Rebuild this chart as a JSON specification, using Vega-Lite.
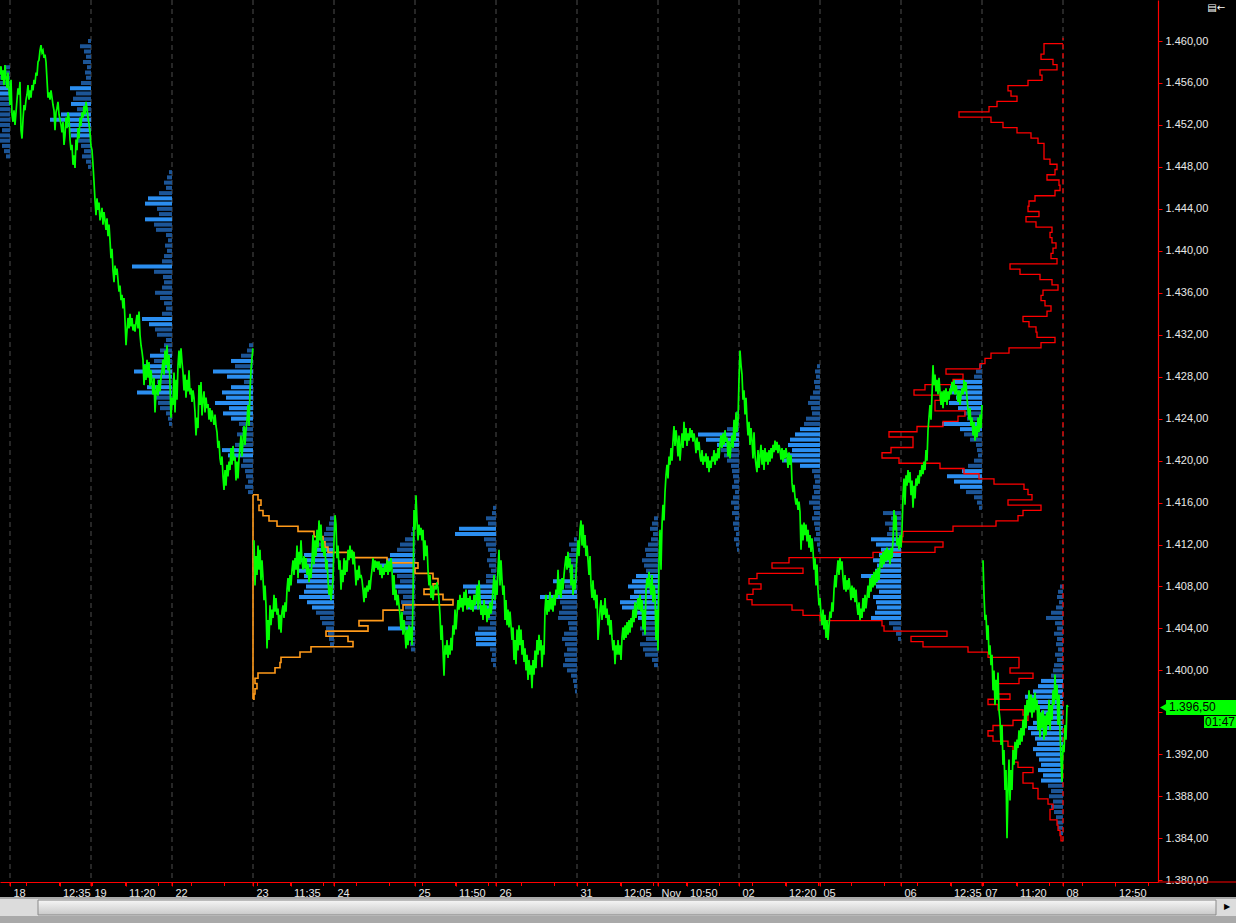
{
"$schema": "https://vega.github.io/schema/vega-lite/v6.json",
"width": 1158, "height": 882,
"autosize": {"type": "none"},
"padding": {"left": 0, "top": 0, "right": 78, "bottom": 41},
"background": "#000000",
"config": {"view": {"stroke": null}, "axis": {"labelFont": "Liberation Sans", "labelFontSize": 11, "labelColor": "#e8e8e8", "domainColor": "#ff0000", "tickColor": "#ff0000", "grid": false, "labelOverlap": false}},
"datasets": {
"sessions": [{"a":0},{"a":1},{"a":2},{"a":3},{"a":4},{"a":5},{"a":6},{"a":7},{"a":8},{"a":9},{"a":10},{"a":11},{"a":12},{"a":13}],
"ticks": [{"t":0},{"t":0.2037},{"t":0.6111},{"t":1},{"t":1.0185},{"t":1.4259},{"t":1.8333},{"t":2},{"t":2.2407},{"t":2.6481},{"t":3},{"t":3.0556},{"t":3.463},{"t":3.8704},{"t":4},{"t":4.2778},{"t":4.6852},{"t":5},{"t":5.0926},{"t":5.5},{"t":5.9074},{"t":6},{"t":6.3148},{"t":6.7222},{"t":7},{"t":7.1296},{"t":7.537},{"t":7.9444},{"t":8},{"t":8.3519},{"t":8.7593},{"t":9},{"t":9.1667},{"t":9.5741},{"t":9.9815},{"t":10},{"t":10.3889},{"t":10.7963},{"t":11},{"t":11.2037},{"t":11.6111},{"t":12},{"t":12.0185},{"t":12.4259},{"t":12.8333},{"t":13},{"t":13.2407},{"t":13.6481},{"t":14.0556}],
"green": [
{"g":"A","b":[-10,-9,-8,-7,-6,-5,-4,-3,-2,-1],"p":[1456.8,1457.6,1456.3,1457.2,1455.8,1457.7,1456.5,1455.5,1457.0,1455.3]},
{"g":"A","b":[0,1,2,3,4,5,6,7,8,9,10,11,12,13,14,15,16,17,18,19,20,21,22,23,24,25,26,27,28,29,30,31,32,33,34,35,36,37,38,39,40,41,42,43,44,45,46,47,48,49,50,51,52,53,54,55,56,57,58,59,60,61,62,63,64,65,66,67,68,69,70,71,72,73,74,75,76,77,78,79,80,81,82],
"p":[1453.9,1456.3,1453.0,1452.3,1453.4,1452.0,1453.2,1454.4,1455.5,1454.9,1456.1,1451.5,1450.7,1452.5,1453.9,1453.4,1454.4,1454.9,1455.8,1454.4,1455.3,1454.6,1455.8,1455.3,1456.3,1455.9,1457.0,1456.7,1458.0,1458.2,1459.1,1459.6,1458.9,1459.1,1458.4,1458.7,1458.0,1456.3,1454.6,1455.1,1454.4,1455.3,1454.6,1453.9,1453.4,1451.5,1453.2,1453.6,1454.2,1453.0,1452.5,1452.0,1451.3,1452.3,1450.1,1451.0,1452.7,1451.7,1453.2,1452.7,1450.6,1449.6,1450.1,1448.2,1449.1,1447.9,1450.6,1449.6,1451.7,1450.7,1452.7,1451.9,1453.2,1452.7,1453.8,1453.0,1454.2,1453.6,1452.7,1452.1,1451.3,1450.0,1449.6]},
{"g":"A","b":[83,84,85,86,87,88,89,90,91,92,93,94,95,96,97,98,99,100,101,102,103,104,105,106,107,108,109,110,111,112,113,114,115,116,117,118,119,120,121,122,123,124,125,126,127,128,129,130,131,132,133,134,135,136,137,138,139,140,141,142,143,144,145,146,147,148,149,150,151,152,153,154,155,156,157,158,159,160,161,162,163],
"p":[1448.2,1446.6,1444.8,1443.4,1445.0,1443.9,1444.6,1442.9,1443.4,1444.1,1442.5,1443.7,1442.9,1442.0,1443.1,1441.4,1442.5,1441.0,1439.3,1440.2,1438.1,1437.0,1438.6,1437.7,1438.3,1437.2,1436.1,1436.7,1435.3,1435.8,1434.5,1435.5,1433.4,1431.0,1432.4,1433.6,1432.6,1434.0,1432.8,1433.6,1432.4,1433.0,1432.3,1433.2,1433.9,1432.6,1434.2,1432.0,1431.0,1430.4,1429.6,1427.2,1429.1,1427.7,1429.6,1427.9,1429.4,1427.1,1428.6,1427.5,1426.3,1427.9,1424.6,1426.6,1427.2,1426.2,1427.7,1426.6,1427.9,1428.6,1429.6,1428.2,1430.5,1429.1,1431.0,1428.6,1430.1,1427.2,1424.1,1426.0,1425.3]},
{"g":"A","b":[164,165,166,167,168,169,170,171,172,173,174,175,176,177,178,179,180,181,182,183,184,185,186,187,188,189,190,191,192,193,194,195,196,197,198,199,200,201,202,203,204,205,206,207,208,209,210,211,212,213,214,215,216,217,218,219,220,221,222,223,224,225,226,227,228,229,230,231,232,233,234,235,236,237,238,239,240,241,242,243],
"p":[1428.4,1424.6,1427.7,1425.8,1429.1,1430.5,1428.8,1430.7,1429.4,1428.4,1426.7,1428.2,1426.0,1427.7,1426.6,1428.6,1426.3,1426.9,1425.6,1426.7,1426.0,1424.6,1422.4,1424.1,1423.1,1427.2,1425.3,1427.5,1424.3,1425.8,1426.6,1424.6,1426.0,1425.0,1425.4,1423.9,1425.0,1423.7,1424.8,1424.1,1423.4,1424.4,1423.3,1422.7,1421.2,1421.9,1420.2,1419.6,1420.4,1418.5,1417.2,1419.1,1417.6,1419.6,1418.5,1419.9,1419.1,1421.2,1419.6,1421.4,1420.0,1420.4,1418.1,1419.9,1418.3,1420.2,1421.2,1422.4,1420.4,1421.9,1423.3,1421.5,1422.9,1423.8,1425.3,1423.3,1426.7,1428.6,1429.8,1430.7]},
{"g":"B","b":[244,245,246,247,248,249,250,251,252,253,254,255,256,257,258,259,260,261,262,263,264,265,266,267,268,269,270,271,272,273,274,275,276,277,278,279,280,281,282,283,284,285,286,287,288,289,290,291,292,293,294,295,296,297,298,299,300,301,302,303,304,305,306,307,308,309,310,311,312,313,314,315,316,317,318,319,320,321,322,323,324,325],
"p":[1412.4,1408.1,1410.9,1409.1,1411.9,1409.6,1411.5,1408.6,1410.5,1408.8,1406.7,1408.1,1406.2,1402.1,1404.8,1402.9,1406.2,1404.3,1405.8,1405.0,1407.2,1405.6,1406.9,1405.3,1405.9,1403.9,1405.3,1403.6,1405.6,1406.2,1405.0,1406.5,1405.6,1407.7,1408.8,1407.5,1409.1,1408.1,1409.6,1410.5,1409.1,1410.7,1409.6,1411.9,1408.8,1411.3,1410.1,1412.4,1410.5,1409.6,1410.9,1409.7,1410.7,1409.1,1410.1,1408.4,1409.7,1408.8,1410.5,1412.9,1410.1,1412.4,1410.9,1413.4,1411.7,1414.3,1412.4,1413.9,1411.3,1412.4,1410.9,1411.7,1409.6,1410.5,1408.6,1407.2,1408.1,1406.7,1407.7,1408.6,1412.4,1414.8]},
{"g":"B","b":[326,327,328,329,330,331,332,333,334,335,336,337,338,339,340,341,342,343,344,345,346,347,348,349,350,351,352,353,354,355,356,357,358,359,360,361,362,363,364,365,366,367,368,369,370,371,372,373,374,375,376,377,378,379,380,381,382,383,384,385,386,387,388,389,390,391,392,393,394,395,396,397,398,399,400,401,402,403,404,405,406,407],
"p":[1413.9,1410.7,1411.9,1409.6,1410.5,1407.7,1409.6,1408.4,1410.7,1409.1,1410.5,1409.4,1411.5,1410.5,1411.9,1410.7,1411.5,1410.1,1411.3,1409.8,1408.1,1409.6,1408.6,1410.0,1408.8,1409.1,1408.6,1407.7,1406.5,1407.9,1406.9,1408.1,1407.5,1408.6,1407.7,1408.8,1409.6,1410.7,1409.4,1410.5,1409.8,1410.4,1409.6,1410.4,1409.1,1410.1,1408.8,1409.8,1409.1,1410.1,1409.4,1410.5,1409.1,1410.4,1409.4,1410.7,1409.6,1407.2,1409.1,1406.7,1407.7,1406.2,1407.2,1406.2,1405.3,1403.9,1405.6,1403.4,1404.8,1403.6,1402.1,1403.9,1402.4,1404.3,1402.9,1404.1,1402.4,1406.7,1415.3,1413.4,1416.7,1414.3]},
{"g":"B","b":[408,409,410,411,412,413,414,415,416,417,418,419,420,421,422,423,424,425,426,427,428,429,430,431,432,433,434,435,436,437,438,439,440,441,442,443,444,445,446,447,448,449,450,451,452,453,454,455,456,457,458,459,460,461,462,463,464,465,466,467,468,469,470,471,472,473,474,475,476,477,478,479,480,481,482,483,484,485,486,487],
"p":[1412.4,1413.9,1412.9,1413.6,1412.4,1413.4,1410.5,1412.4,1410.9,1411.9,1409.6,1408.1,1409.1,1406.9,1408.1,1406.7,1407.7,1408.1,1407.7,1408.4,1407.9,1406.7,1405.3,1402.9,1404.3,1401.9,1399.5,1402.4,1401.5,1402.9,1401.2,1402.4,1401.5,1403.1,1401.9,1404.3,1403.4,1405.8,1403.9,1405.3,1406.7,1405.8,1407.2,1406.0,1406.9,1405.6,1407.5,1406.2,1407.7,1405.8,1406.9,1406.0,1407.1,1405.8,1406.7,1405.6,1407.2,1406.2,1406.9,1408.1,1405.8,1408.6,1406.7,1405.3,1406.2,1404.8,1406.7,1405.3,1406.2,1404.6,1405.9,1405.0,1406.5,1405.4,1406.2,1407.7,1409.1,1406.7,1408.6,1407.2]},
{"g":"B","b":[488,489,490,491,492,493,494,495,496,497,498,499,500,501,502,503,504,505,506,507,508,509,510,511,512,513,514,515,516,517,518,519,520,521,522,523,524,525,526,527,528,529,530,531,532,533,534,535,536,537,538,539,540,541,542,543,544,545,546,547,548,549,550,551,552,553,554,555,556,557,558,559,560,561,562,563,564,565,566,567,568],
"p":[1409.6,1411.5,1408.1,1410.5,1408.6,1407.2,1408.1,1404.8,1406.7,1404.3,1405.8,1404.1,1405.6,1404.3,1402.9,1404.1,1401.0,1402.9,1400.6,1403.9,1401.9,1404.3,1402.4,1403.9,1401.5,1402.9,1400.8,1402.1,1400.0,1401.5,1399.1,1401.0,1399.6,1400.5,1398.3,1401.0,1399.6,1401.9,1400.2,1402.9,1401.5,1403.4,1401.9,1402.9,1400.3,1402.4,1401.5,1405.8,1407.2,1405.3,1406.7,1405.6,1407.5,1405.8,1406.9,1405.6,1407.2,1406.2,1407.7,1406.9,1409.6,1407.2,1408.6,1406.9,1408.8,1407.7,1409.1,1410.1,1410.9,1409.6,1411.3,1409.8,1410.7,1408.1,1410.1,1407.2,1408.6,1407.7,1409.1,1410.9,1412.4]},
{"g":"B","b":[569,570,571,572,573,574,575,576,577,578,579,580,581,582,583,584,585,586,587,588,589,590,591,592,593,594,595,596,597,598,599,600,601,602,603,604,605,606,607,608,609,610,611,612,613,614,615,616,617,618,619,620,621,622,623,624,625,626,627,628,629,630,631,632,633,634,635,636,637,638,639,640,641,642,643,644,645,646,647,648],
"p":[1410.9,1413.4,1414.3,1411.9,1413.9,1411.7,1412.9,1410.9,1411.9,1410.5,1409.1,1410.9,1408.1,1406.9,1408.6,1406.7,1407.7,1405.9,1407.2,1402.9,1404.3,1405.8,1406.7,1404.8,1406.2,1405.3,1406.9,1405.0,1405.9,1404.3,1405.3,1403.4,1404.8,1403.1,1401.9,1402.9,1400.6,1402.4,1401.5,1402.9,1401.5,1402.4,1401.0,1403.1,1404.1,1402.9,1404.3,1403.1,1404.6,1403.4,1404.8,1403.6,1405.0,1404.1,1405.8,1404.6,1406.5,1405.0,1406.2,1406.9,1405.8,1407.2,1405.6,1406.7,1403.9,1405.8,1403.4,1407.7,1408.8,1407.9,1409.4,1408.1,1407.2,1409.1,1406.5,1408.1,1407.2,1402.9,1405.8,1401.9]},
{"g":"B","b":[649,650,651,652,653,654,655,656,657,658,659,660,661,662,663,664,665,666,667,668,669,670,671,672,673,674,675,676,677,678,679,680,681,682,683,684,685,686,687,688,689,690,691,692,693,694,695,696,697,698,699,700,701,702,703,704,705,706,707,708,709,710,711,712,713,714,715,716,717,718,719,720,721,722,723,724,725,726,727,728,729,730,731],
"p":[1410.5,1413.4,1409.6,1413.9,1415.8,1414.3,1417.0,1418.6,1419.6,1418.3,1420.4,1419.6,1421.2,1420.0,1421.9,1423.3,1421.4,1422.9,1421.9,1420.4,1422.4,1420.0,1421.4,1422.6,1421.2,1423.7,1421.9,1423.1,1421.4,1422.6,1421.9,1423.1,1422.2,1422.9,1421.8,1422.6,1421.9,1420.7,1422.2,1421.0,1421.8,1420.4,1419.9,1421.0,1419.6,1420.4,1419.9,1420.7,1419.3,1420.4,1418.9,1420.0,1419.3,1420.4,1419.9,1421.0,1419.6,1420.7,1420.0,1421.2,1420.2,1421.5,1422.4,1421.2,1422.6,1421.5,1422.9,1421.8,1422.2,1420.4,1421.9,1420.2,1421.5,1422.4,1421.2,1423.9,1421.9,1424.6,1422.7,1423.9,1427.7,1430.5,1429.1]},
{"g":"B","b":[732,733,734,735,736,737,738,739,740,741,742,743,744,745,746,747,748,749,750,751,752,753,754,755,756,757,758,759,760,761,762,763,764,765,766,767,768,769,770,771,772,773,774,775,776,777,778,779,780,781,782,783,784,785,786,787,788,789,790,791,792,793,794,795,796,797,798,799,800,801,802,803,804,805,806,807,808,809,810,811],
"p":[1428.2,1425.8,1426.7,1424.4,1426.0,1423.9,1422.4,1423.7,1421.5,1423.1,1421.9,1420.2,1422.7,1420.5,1419.6,1418.9,1421.0,1419.3,1420.5,1421.5,1419.6,1421.0,1419.1,1421.2,1419.9,1420.8,1419.6,1421.0,1419.9,1421.2,1420.2,1421.5,1420.8,1421.9,1421.0,1421.8,1420.7,1421.5,1421.0,1420.1,1421.2,1419.9,1421.0,1420.2,1421.2,1420.5,1419.3,1420.8,1419.6,1420.5,1417.9,1417.0,1417.7,1416.5,1415.8,1416.4,1415.3,1416.1,1415.1,1411.5,1413.9,1412.4,1414.1,1412.9,1413.9,1412.3,1413.4,1411.7,1412.9,1411.3,1412.6,1411.5,1409.6,1410.7,1408.1,1410.1,1407.7,1406.2,1406.9,1405.3]},
{"g":"B","b":[812,813,814,815,816,817,818,819,820,821,822,823,824,825,826,827,828,829,830,831,832,833,834,835,836,837,838,839,840,841,842,843,844,845,846,847,848,849,850,851,852,853,854,855,856,857,858,859,860,861,862,863,864,865,866,867,868,869,870,871,872,873,874,875,876,877,878,879,880,881,882,883,884,885,886,887,888,889,890,891,892],
"p":[1404.3,1405.8,1403.9,1405.3,1403.1,1404.8,1402.9,1404.3,1405.6,1405.0,1406.5,1405.6,1407.7,1409.1,1407.9,1409.4,1410.5,1409.1,1410.7,1409.6,1410.4,1408.8,1407.7,1409.1,1407.5,1408.6,1407.7,1408.8,1407.9,1406.7,1408.1,1406.9,1407.9,1406.5,1407.7,1406.2,1405.3,1406.5,1404.8,1405.9,1405.0,1406.9,1405.6,1407.2,1405.9,1406.9,1408.1,1406.9,1408.8,1407.5,1409.1,1407.9,1409.4,1408.1,1409.6,1408.4,1409.8,1408.6,1410.1,1411.0,1409.8,1411.3,1410.1,1411.5,1410.4,1411.7,1410.5,1411.5,1410.1,1411.7,1410.7,1412.4,1415.3,1413.4,1414.8,1411.9,1412.6,1411.5,1412.9,1411.7,1413.4]},
{"g":"B","b":[893,894,895,896,897,898,899,900,901,902,903,904,905,906,907,908,909,910,911,912,913,914,915,916,917,918,919,920,921,922,923,924,925,926,927,928,929,930,931,932,933,934,935,936,937,938,939,940,941,942,943,944,945,946,947,948,949,950,951,952,953,954,955,956,957,958,959,960,961,962,963,964,965,966,967,968,969,970,971,972],
"p":[1416.7,1418.3,1415.8,1418.6,1417.6,1419.1,1417.9,1418.9,1416.7,1418.1,1415.5,1417.6,1416.4,1418.3,1417.6,1418.6,1417.8,1419.1,1418.5,1419.6,1418.7,1419.9,1419.1,1421.0,1420.0,1422.9,1424.1,1425.3,1423.9,1426.3,1429.1,1427.2,1428.2,1426.6,1427.7,1426.3,1427.9,1426.6,1425.3,1426.6,1425.0,1426.7,1425.6,1426.9,1425.3,1426.6,1425.8,1426.9,1426.3,1427.5,1426.6,1427.7,1426.3,1427.2,1426.6,1425.6,1426.7,1425.3,1426.3,1426.9,1426.3,1427.7,1426.6,1427.5,1426.0,1424.8,1423.9,1425.0,1423.3,1424.1,1422.4,1423.7,1421.9,1423.3,1422.2,1424.1,1422.7,1424.4,1423.1,1425.3]},
{"g":"C","b":[973,974,975,976,977,978,979,980,981,982,983,984,985,986,987,988,989,990,991,992,993,994,995,996,997,998,999,1000,1001,1002,1003,1004,1005,1006,1007,1008,1009,1010,1011,1012,1013,1014,1015,1016,1017,1018,1019,1020,1021,1022,1023,1024,1025,1026,1027,1028,1029,1030,1031,1032,1033,1034,1035,1036,1037,1038,1039,1040,1041,1042,1043,1044,1045,1046,1047,1048,1049,1050,1051,1052,1053,1054,1055,1056,1057,1058],
"p":[1410.5,1407.2,1404.8,1405.3,1402.9,1404.3,1401.5,1402.4,1400.5,1401.5,1398.1,1400.0,1396.7,1399.1,1397.2,1399.8,1396.2,1395.3,1392.9,1394.8,1391.0,1392.4,1388.6,1390.5,1384.0,1388.6,1391.5,1387.6,1390.5,1388.6,1392.4,1391.0,1393.2,1391.5,1393.4,1392.6,1394.3,1392.9,1394.5,1393.2,1395.3,1393.8,1396.7,1394.5,1397.2,1395.7,1398.1,1396.0,1397.7,1395.5,1397.4,1396.0,1397.9,1396.2,1397.2,1394.3,1396.7,1393.6,1396.0,1394.5,1396.2,1393.4,1395.7,1393.8,1396.0,1394.8,1397.2,1394.3,1396.7,1395.3,1398.1,1396.7,1399.6,1397.2,1398.6,1394.8,1397.7,1394.3,1391.5,1389.4,1392.9,1392.2,1394.8,1393.4,1396.7,1396.5]}
],
"blue": [
{"a":0,"p":[1457.5,1457,1456.5,1456,1455.5,1455,1454.5,1454,1453.5,1453,1452.5,1452,1451.5,1451,1450.5,1450,1449.5,1449],"v":[6,10,12,14,20,22,18,14,12,15,12,10,8,10,12,8,6,4]},
{"a":1,"p":[1460,1459.5,1459,1458.5,1458,1457.5,1457,1456.5,1456,1455.5,1455,1454.5,1454,1453.5,1453,1452.5,1452,1451.5,1451,1450.5,1450,1449.5,1449,1448.5,1448],"v":[3,11,7,5,8,4,6,5,10,21,15,18,20,14,30,41,24,22,20,13,10,7,9,5,3]},
{"a":2,"p":[1447.5,1447,1446.5,1446,1445.5,1445,1444.5,1444,1443.5,1443,1442.5,1442,1441.5,1441,1440.5,1440,1439.5,1439,1438.5,1438,1437.5,1437,1436.5,1436,1435.5,1435,1434.5,1434,1433.5,1433,1432.5,1432,1431.5,1431,1430.5,1430,1429.5,1429,1428.5,1428,1427.5,1427,1426.5,1426,1425.5,1425,1424.5,1424,1423.5],"v":[3,5,8,6,13,24,27,15,13,27,18,16,6,4,7,5,8,10,40,18,9,8,10,17,12,8,6,10,30,23,17,15,6,8,12,22,18,28,38,20,15,25,35,18,14,12,6,4,3]},
{"a":3,"p":[1431,1430.5,1430,1429.5,1429,1428.5,1428,1427.5,1427,1426.5,1426,1425.5,1425,1424.5,1424,1423.5,1423,1422.5,1422,1421.5,1421,1420.5,1420,1419.5,1419,1418.5,1418,1417.5,1417],"v":[4,6,12,22,18,40,26,9,22,31,27,38,24,30,22,14,11,16,9,18,31,25,10,12,8,7,5,8,5]},
{"a":4,"p":[1414.5,1414,1413.5,1413,1412.5,1412,1411.5,1411,1410.5,1410,1409.5,1409,1408.5,1408,1407.5,1407,1406.5,1406,1405.5,1405,1404.5,1404,1403.5,1403,1402.5],"v":[4,5,8,10,14,18,20,30,33,28,35,30,37,28,30,35,27,22,18,14,12,8,6,5,4]},
{"a":5,"p":[1413.5,1413,1412.5,1412,1411.5,1411,1410.5,1410,1409.5,1409,1408.5,1408,1407.5,1407,1406.5,1406,1405.5,1405,1404.5,1404,1403.5,1403,1402.5,1402],"v":[3,4,10,15,18,25,28,40,22,18,15,20,17,12,14,10,12,9,10,27,8,6,5,4]},
{"a":6,"p":[1415.5,1415,1414.5,1414,1413.5,1413,1412.5,1412,1411.5,1411,1410.5,1410,1409.5,1409,1408.5,1408,1407.5,1407,1406.5,1406,1405.5,1405,1404.5,1404,1403.5,1403,1402.5,1402,1401.5,1401,1400.5],"v":[3,4,10,8,37,41,12,10,8,6,9,7,5,10,10,33,28,22,26,28,10,8,6,18,21,20,20,6,4,5,3]},
{"a":7,"p":[1412.5,1412,1411.5,1411,1410.5,1410,1409.5,1409,1408.5,1408,1407.5,1407,1406.5,1406,1405.5,1405,1404.5,1404,1403.5,1403,1402.5,1402,1401.5,1401,1400.5,1400,1399.5,1399,1398.5,1398],"v":[3,8,6,9,7,10,8,6,24,12,20,37,17,15,18,19,9,8,13,15,12,10,13,12,14,10,6,4,3,2]},
{"a":8,"p":[1414.5,1414,1413.5,1413,1412.5,1412,1411.5,1411,1410.5,1410,1409.5,1409,1408.5,1408,1407.5,1407,1406.5,1406,1405.5,1405,1404.5,1404,1403.5,1403,1402.5,1402,1401.5,1401,1400.5],"v":[4,6,8,5,7,10,13,12,16,14,12,22,26,30,24,28,38,36,24,20,15,18,16,12,18,15,13,6,4]},
{"a":9,"p":[1424.5,1424,1423.5,1423,1422.5,1422,1421.5,1421,1420.5,1420,1419.5,1419,1418.5,1418,1417.5,1417,1416.5,1416,1415.5,1415,1414.5,1414,1413.5,1413,1412.5,1412,1411.5],"v":[3,4,6,12,41,33,22,18,15,12,8,7,6,5,7,4,6,8,5,7,4,6,5,3,5,3,2]},
{"a":10,"p":[1429,1428.5,1428,1427.5,1427,1426.5,1426,1425.5,1425,1424.5,1424,1423.5,1423,1422.5,1422,1421.5,1421,1420.5,1420,1419.5,1419,1418.5,1418,1417.5,1417,1416.5,1416,1415.5,1415,1414.5,1414,1413.5,1413,1412.5,1412,1411.5],"v":[3,5,4,6,5,7,10,12,9,8,14,16,20,25,30,32,28,40,38,20,8,6,5,7,6,8,11,7,6,8,6,5,4,6,3,2]},
{"a":11,"p":[1415,1414.5,1414,1413.5,1413,1412.5,1412,1411.5,1411,1410.5,1410,1409.5,1409,1408.5,1408,1407.5,1407,1406.5,1406,1405.5,1405,1404.5,1404,1403.5,1403],"v":[18,10,16,12,14,30,25,20,22,28,24,26,40,30,25,22,28,25,24,26,30,12,8,5,3]},
{"a":12,"p":[1429,1428.5,1428,1427.5,1427,1426.5,1426,1425.5,1425,1424.5,1424,1423.5,1423,1422.5,1422,1421.5,1421,1420.5,1420,1419.5,1419,1418.5,1418,1417.5,1417,1416.5,1416,1415.5],"v":[3,6,8,28,32,30,26,33,24,18,15,40,22,18,12,6,5,4,8,14,20,35,28,22,16,8,5,3]},
{"a":13,"p":[1408,1407.5,1407,1406.5,1406,1405.5,1405,1404.5,1404,1403.5,1403,1402.5,1402,1401.5,1401,1400.5,1400,1399.5,1399,1398.5,1398,1397.5,1397,1396.5,1396,1395.5,1395,1394.5,1394,1393.5,1393,1392.5,1392,1391.5,1391,1390.5,1390,1389.5,1389,1388.5,1388,1387.5,1387,1386.5,1386,1385.5,1385,1384.5],"v":[3,5,6,4,7,12,17,8,6,9,6,7,5,8,6,9,10,12,22,25,30,38,33,28,22,24,30,35,32,28,26,30,27,24,22,25,20,22,15,12,14,10,12,9,7,6,5,3]}
],
"red": [
{"p":1459.5,"v":0},{"p":1459.5,"v":19},{"p":1459,"v":19},{"p":1458.5,"v":22},{"p":1458,"v":10},{"p":1457.5,"v":6},{"p":1457,"v":23},{"p":1456.5,"v":21},{"p":1456,"v":35},{"p":1455.5,"v":55},{"p":1455,"v":52},
{"p":1454.5,"v":46},{"p":1454,"v":66},{"p":1453.5,"v":74},{"p":1453,"v":104},{"p":1452.5,"v":72},{"p":1452,"v":60},{"p":1451.5,"v":46},{"p":1451,"v":32},{"p":1450.5,"v":25},{"p":1450,"v":19},
{"p":1449.5,"v":19},{"p":1449,"v":19},{"p":1448.5,"v":13},{"p":1448,"v":6},{"p":1447.5,"v":8},{"p":1447,"v":16},{"p":1446.5,"v":4},{"p":1446,"v":3},{"p":1445.5,"v":8},{"p":1445,"v":28},
{"p":1444.5,"v":34},{"p":1444,"v":35},{"p":1443.5,"v":24},{"p":1443,"v":37},{"p":1442.5,"v":27},{"p":1442,"v":11},{"p":1441.5,"v":13},{"p":1441,"v":11},{"p":1440.5,"v":7},{"p":1440,"v":10},
{"p":1439.5,"v":12},{"p":1439,"v":6},{"p":1438.5,"v":53},{"p":1438,"v":43},{"p":1437.5,"v":23},{"p":1437,"v":11},{"p":1436.5,"v":5},{"p":1436,"v":20},{"p":1435.5,"v":22},{"p":1435,"v":18},
{"p":1434.5,"v":12},{"p":1434,"v":16},{"p":1433.5,"v":40},{"p":1433,"v":34},{"p":1432.5,"v":27},{"p":1432,"v":26},{"p":1431.5,"v":8},{"p":1431,"v":22},{"p":1430.5,"v":54},{"p":1430,"v":72},
{"p":1429.5,"v":78},{"p":1429,"v":83},{"p":1428.5,"v":117},{"p":1428,"v":100},{"p":1427.5,"v":110},{"p":1427,"v":138},{"p":1426.5,"v":149},{"p":1426,"v":123},{"p":1425.5,"v":128},{"p":1425,"v":128},
{"p":1424.5,"v":98},{"p":1424,"v":105},{"p":1423.5,"v":120},{"p":1423,"v":146},{"p":1422.5,"v":174},{"p":1422,"v":150},{"p":1421.5,"v":150},{"p":1421,"v":172},{"p":1420.5,"v":181},{"p":1420,"v":164},
{"p":1419.5,"v":123},{"p":1419,"v":99},{"p":1418.5,"v":84},{"p":1418,"v":69},{"p":1417.5,"v":39},{"p":1417,"v":35},{"p":1416.5,"v":31},{"p":1416,"v":55},{"p":1415.5,"v":22},{"p":1415,"v":40},
{"p":1414.5,"v":45},{"p":1414,"v":67},{"p":1413.5,"v":110},{"p":1413,"v":160},{"p":1412.5,"v":161},{"p":1412,"v":120},{"p":1411.5,"v":128},{"p":1411,"v":190},{"p":1410.5,"v":274},{"p":1410,"v":291},
{"p":1409.5,"v":260},{"p":1409,"v":306},{"p":1408.5,"v":314},{"p":1408,"v":302},{"p":1407.5,"v":310},{"p":1407,"v":316},{"p":1406.5,"v":311},{"p":1406,"v":271},{"p":1405.5,"v":260},{"p":1405,"v":243},
{"p":1404.5,"v":181},{"p":1404,"v":179},{"p":1403.5,"v":116},{"p":1403,"v":152},{"p":1402.5,"v":140},{"p":1402,"v":95},{"p":1401.5,"v":75},{"p":1401,"v":44},{"p":1400.5,"v":44},{"p":1400,"v":53},
{"p":1399.5,"v":30},{"p":1399,"v":44},{"p":1398.5,"v":65},{"p":1398,"v":65},{"p":1397.5,"v":53},{"p":1397,"v":75},{"p":1396.5,"v":65},{"p":1396,"v":40},{"p":1395.5,"v":35},{"p":1395,"v":50},
{"p":1394.5,"v":70},{"p":1394,"v":75},{"p":1393.5,"v":70},{"p":1393,"v":55},{"p":1392.5,"v":50},{"p":1392,"v":50},{"p":1391.5,"v":50},{"p":1391,"v":45},{"p":1390.5,"v":30},{"p":1390,"v":40},
{"p":1389.5,"v":40},{"p":1389,"v":30},{"p":1388.5,"v":25},{"p":1388,"v":25},{"p":1387.5,"v":15},{"p":1387,"v":10},{"p":1386.5,"v":13},{"p":1386,"v":13},{"p":1385.5,"v":6},{"p":1385,"v":5},
{"p":1384.5,"v":3},{"p":1384,"v":2},{"p":1383.5,"v":0}
],
"orange": [
{"p":1416.5,"v":0},{"p":1416.5,"v":5},{"p":1416,"v":8},{"p":1415.5,"v":6},{"p":1415,"v":10},{"p":1414.5,"v":16},{"p":1414,"v":24},{"p":1413.5,"v":45},{"p":1413,"v":61},{"p":1412.5,"v":70},{"p":1412,"v":72},
{"p":1411.5,"v":75},{"p":1411,"v":100},{"p":1410.5,"v":134},{"p":1410,"v":165},{"p":1409.5,"v":162},{"p":1409,"v":180},{"p":1408.5,"v":185},{"p":1408,"v":180},{"p":1407.5,"v":171},{"p":1407,"v":190},
{"p":1406.5,"v":200},{"p":1406,"v":150},{"p":1405.5,"v":130},{"p":1405,"v":130},{"p":1404.5,"v":106},{"p":1404,"v":115},{"p":1403.5,"v":73},{"p":1403,"v":95},{"p":1402.5,"v":100},{"p":1402,"v":58},
{"p":1401.5,"v":47},{"p":1401,"v":28},{"p":1400.5,"v":27},{"p":1400,"v":22},{"p":1399.5,"v":5},{"p":1399,"v":2},{"p":1398.5,"v":4},{"p":1398,"v":2},{"p":1397.5,"v":1},{"p":1397,"v":0}
]
},
"layer": [
{
"data": {"name": "sessions"},
"mark": {"type": "rule", "color": "#4d4d4d", "strokeWidth": 1, "strokeDash": [5, 4]},
"encoding": {
"x": {"field": "a", "type": "quantitative", "title": null,
"scale": {"domain": [-0.1235, 14.1728], "nice": false, "zero": false},
"axis": {"orient": "bottom", "values": [0,0.6111,1,1.4259,2,3,3.463,4,5,5.5,6,7,7.537,8,8.3519,9,9.5741,10,11,11.6111,12,12.4259,13,13.6481],
"labelExpr": "['18','12:35','19','11:20','22','23','11:35','24','25','11:50','26','31','12:05','Nov','10:50','02','12:20','05','06','12:35','07','11:20','08','12:50'][indexof([0,0.6111,1,1.4259,2,3,3.463,4,5,5.5,6,7,7.537,8,8.3519,9,9.5741,10,11,11.6111,12,12.4259,13,13.6481], datum.value)] || ''",
"labelAlign": "left", "labelOffset": 3, "labelPadding": 1, "labelFlush": false, "labelOverlap": false, "labelBound": false,
"tickSize": 4, "tickWidth": 1, "domainWidth": 1.2, "title": null}}
}
},
{
"data": {"name": "ticks"},
"mark": {"type": "rule", "color": "#ff0000", "strokeWidth": 1},
"encoding": {
"x": {"field": "t", "type": "quantitative", "title": null},
"y": {"datum": 1379.83, "type": "quantitative"},
"y2": {"datum": 1379.45}
}
},
{
"data": {"name": "blue"},
"transform": [{"flatten": ["p", "v"]}, {"calculate": "datum.a - datum.v / 81", "as": "t2"}],
"mark": {"type": "rule", "strokeWidth": 4, "clip": true},
"encoding": {
"x": {"field": "a", "type": "quantitative", "title": null},
"x2": {"field": "t2"},
"y": {"field": "p", "type": "quantitative", "title": null,
"scale": {"domain": [1379.83, 1463.91], "nice": false, "zero": false},
"axis": {"orient": "right", "values": [1380,1381,1382,1383,1384,1385,1386,1387,1388,1389,1390,1391,1392,1393,1394,1395,1396,1397,1398,1399,1400,1401,1402,1403,1404,1405,1406,1407,1408,1409,1410,1411,1412,1413,1414,1415,1416,1417,1418,1419,1420,1421,1422,1423,1424,1425,1426,1427,1428,1429,1430,1431,1432,1433,1434,1435,1436,1437,1438,1439,1440,1441,1442,1443,1444,1445,1446,1447,1448,1449,1450,1451,1452,1453,1454,1455,1456,1457,1458,1459,1460,1461,1462],
"labelExpr": "datum.value % 2 == 0 && datum.value != 1396 ? '1.' + slice('' + datum.value, 1) + ',00' : ''",
"labelAlign": "left", "labelPadding": 3, "labelFlush": false, "labelOverlap": false, "labelBound": false,
"tickSize": 4, "tickWidth": 1, "domainWidth": 1.2, "title": null}},
"color": {"condition": {"test": "datum.v >= 20", "value": "#2b8ef0"}, "value": "#1c5597"}
}
},
{
"data": {"name": "orange"},
"transform": [{"calculate": "3 + datum.v / 81", "as": "t"}, {"calculate": "datum.p + 0.25", "as": "e"}, {"calculate": "(1500 - datum.e) * 1000 + datum.v", "as": "k"}],
"mark": {"type": "line", "color": "#ff9a1a", "strokeWidth": 1.6, "interpolate": "step-before"},
"encoding": {
"x": {"field": "t", "type": "quantitative", "title": null},
"y": {"field": "e", "type": "quantitative", "title": null},
"order": {"field": "k", "type": "quantitative"}
}
},
{
"data": {"values": [{}]},
"mark": {"type": "rule", "color": "#ff9a1a", "strokeWidth": 1.6},
"encoding": {
"x": {"datum": 3, "type": "quantitative"},
"y": {"datum": 1397.25, "type": "quantitative"},
"y2": {"datum": 1416.75}
}
},
{
"data": {"name": "red"},
"transform": [{"calculate": "13 - datum.v / 81", "as": "t"}, {"calculate": "datum.p + 0.25", "as": "e"}, {"calculate": "(1500 - datum.e) * 1000 + datum.v", "as": "k"}],
"mark": {"type": "line", "color": "#ff0000", "strokeWidth": 1.3, "interpolate": "step-before"},
"encoding": {
"x": {"field": "t", "type": "quantitative", "title": null},
"y": {"field": "e", "type": "quantitative", "title": null},
"order": {"field": "k", "type": "quantitative"}
}
},
{
"data": {"values": [{}]},
"mark": {"type": "rule", "color": "#ff0000", "strokeWidth": 1.2, "strokeDash": [5, 4]},
"encoding": {
"x": {"datum": 13, "type": "quantitative"},
"y": {"datum": 1383.75, "type": "quantitative"},
"y2": {"datum": 1460.3}
}
},
{
"data": {"name": "green"},
"transform": [{"flatten": ["b", "p"]}, {"calculate": "datum.b / 81", "as": "t"}],
"mark": {"type": "line", "color": "#00ff00", "strokeWidth": 1.7, "clip": true},
"encoding": {
"x": {"field": "t", "type": "quantitative", "title": null},
"y": {"field": "p", "type": "quantitative", "title": null},
"detail": {"field": "g", "type": "nominal"}
}
},
{
"data": {"values": [{}]},
"mark": {"type": "rule", "color": "#ff0000", "strokeWidth": 1.2},
"encoding": {
"x": {"datum": 14.1728, "type": "quantitative"},
"x2": {"datum": 15.14},
"y": {"datum": 1379.83, "type": "quantitative"}
}
},
{
"data": {"values": [{}]},
"mark": {"type": "rect", "color": "#a9a9a9"},
"encoding": {
"x": {"datum": -0.1235, "type": "quantitative"}, "x2": {"datum": 15.14},
"y": {"datum": 1378.4, "type": "quantitative"}, "y2": {"datum": 1375.9}
}
},
{
"data": {"values": [{}]},
"mark": {"type": "rect", "color": "#dcdcdc"},
"encoding": {
"x": {"datum": -0.1235, "type": "quantitative"}, "x2": {"datum": 15.14},
"y": {"datum": 1378.21, "type": "quantitative"}, "y2": {"datum": 1376.59}
}
},
{
"data": {"values": [{}]},
"mark": {"type": "rect", "stroke": "#8a8a8a", "strokeWidth": 1,
"fill": {"gradient": "linear", "x1": 0, "y1": 0, "x2": 0, "y2": 1, "stops": [{"offset": 0, "color": "#f6f6f6"}, {"offset": 1, "color": "#c9c9c9"}]}},
"encoding": {
"x": {"datum": 0.3457, "type": "quantitative"}, "x2": {"datum": 14.889},
"y": {"datum": 1378.11, "type": "quantitative"}, "y2": {"datum": 1376.69}
}
},
{
"data": {"values": [{}]},
"mark": {"type": "text", "text": "▶", "font": "DejaVu Sans", "fontSize": 8, "color": "#000000", "align": "center", "baseline": "middle"},
"encoding": {
"x": {"datum": 15.025, "type": "quantitative"},
"y": {"datum": 1377.4, "type": "quantitative"}
}
},
{
"data": {"values": [{}]},
"mark": {"type": "rect", "color": "#00ff00"},
"encoding": {
"x": {"datum": 14.272, "type": "quantitative"}, "x2": {"datum": 15.14},
"y": {"datum": 1397.18, "type": "quantitative"}, "y2": {"datum": 1395.75}
}
},
{
"data": {"values": [{}]},
"mark": {"type": "point", "shape": "triangle-left", "filled": true, "color": "#00ff00", "size": 200, "opacity": 1},
"encoding": {
"x": {"datum": 14.272, "type": "quantitative"},
"y": {"datum": 1396.47, "type": "quantitative"}
}
},
{
"data": {"values": [{}]},
"mark": {"type": "text", "text": "1.396,50", "font": "Liberation Sans", "fontSize": 12, "color": "#000000", "align": "left", "baseline": "middle"},
"encoding": {
"x": {"datum": 14.309, "type": "quantitative"},
"y": {"datum": 1396.47, "type": "quantitative"}
}
},
{
"data": {"values": [{}]},
"mark": {"type": "rect", "color": "#00ff00"},
"encoding": {
"x": {"datum": 14.741, "type": "quantitative"}, "x2": {"datum": 15.14},
"y": {"datum": 1395.65, "type": "quantitative"}, "y2": {"datum": 1394.5}
}
},
{
"data": {"values": [{}]},
"mark": {"type": "text", "text": "01:47", "font": "Liberation Sans", "fontSize": 12, "color": "#000000", "align": "center", "baseline": "middle"},
"encoding": {
"x": {"datum": 14.938, "type": "quantitative"},
"y": {"datum": 1395.08, "type": "quantitative"}
}
},
{
"data": {"values": [{}]},
"mark": {"type": "text", "text": "▤←", "font": "DejaVu Sans", "fontSize": 10, "color": "#ffffff", "align": "center", "baseline": "middle"},
"encoding": {
"x": {"datum": 14.89, "type": "quantitative"},
"y": {"datum": 1463.1, "type": "quantitative"}
}
}
]
}
